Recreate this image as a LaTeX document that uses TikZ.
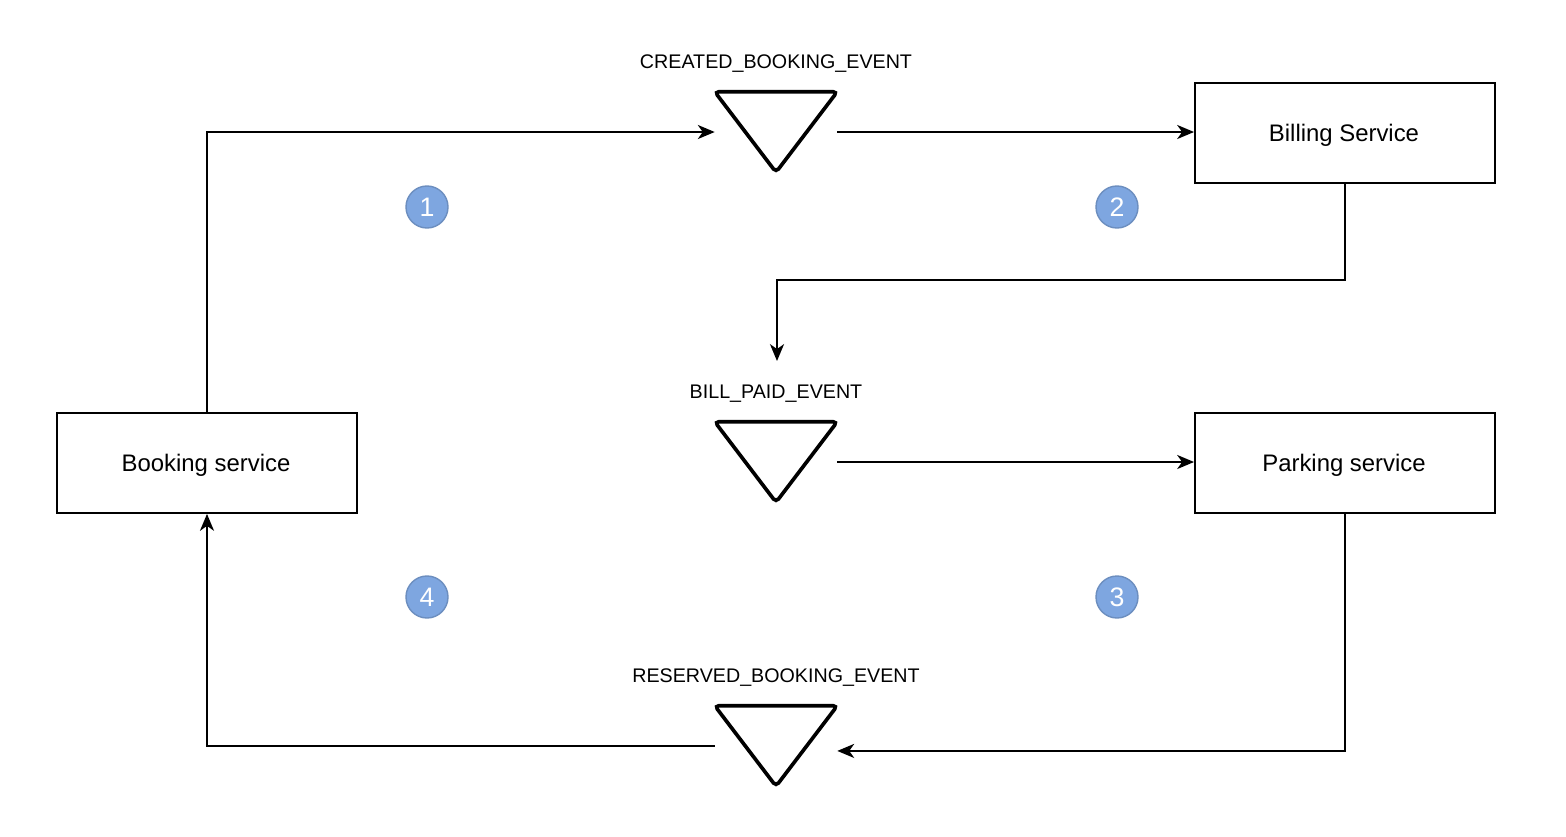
\documentclass[tikz,border=0pt]{standalone}
\usepackage{fontspec}
\setmainfont{Liberation Sans}
\usetikzlibrary{arrows.meta}
\definecolor{stepfill}{HTML}{7EA6E0}
\definecolor{stepline}{HTML}{6C8EBF}
\tikzset{
    service/.style={draw, line width=1.3pt, minimum width=7.5cm, minimum height=2.5cm, font=\fontsize{17}{20}\selectfont},
    evbox/.style={minimum width=3.05cm, minimum height=2cm, inner sep=0pt},
    evline/.style={line width=2.6pt, rounded corners=3pt},
    evlabel/.style={font=\fontsize{14}{17}\selectfont},
    flow/.style={line width=1.3pt, -{Stealth[length=12pt, width=10pt, inset=3.5pt]}},
    stepdot/.style={circle, draw=stepline, fill=stepfill, line width=1pt, minimum size=1.05cm, inner sep=0pt, text=white, font=\fontsize{19}{22}\selectfont}
}
\begin{document}
\begin{tikzpicture}[x=0.025cm, y=-0.025cm]
    \useasboundingbox (0, 0) rectangle (1566, 836);
    \node[service] (book) at (207, 463) {};
    \node[service] (bill) at (1345, 133) {};
    \node[service] (park) at (1345, 463) {};
    \node[font=\fontsize{17}{20}\selectfont] (booktext) at (206, 465) {Booking service};
    \node[font=\fontsize{17}{20}\selectfont] (billtext) at (1344, 135) {Billing Service};
    \node[font=\fontsize{17}{20}\selectfont] (parktext) at (1344, 465) {Parking service};
    \node[evbox] (created) at (776, 132) {};
    \node[evbox] (paid) at (776, 462) {};
    \node[evbox] (reserved) at (776, 746) {};
    \foreach \ev in {created, paid, reserved}
        \draw[evline] (\ev.north west) -- (\ev.north east) -- (\ev.south) -- cycle;
    \node[evlabel] (createdtext) at (776, 64) {CREATED\_BOOKING\_EVENT};
    \node[evlabel] (paidtext) at (776, 394) {BILL\_PAID\_EVENT};
    \node[evlabel] (reservedtext) at (776, 678) {RESERVED\_BOOKING\_EVENT};
    \foreach \n/\x/\y in {1/427/207, 2/1117/207, 3/1117/597, 4/427/597}
        \node[stepdot] (step\n) at (\x, \y) {\n};
    \coordinate (paidin) at (777, 361);
    \draw[flow] (book.north) |- (created.west);
    \draw[flow] (created.east) -- (created.east -| bill.west);
    \draw[flow] (bill.south) -- ++(0, 96) -| (paidin);
    \draw[flow] (paid.east) -- (paid.east -| park.west);
    \draw[flow] (park.south) |- ([yshift=-3.5pt]reserved.east);
    \draw[flow] (reserved.west) -| (book.south);
\end{tikzpicture}
\end{document}
